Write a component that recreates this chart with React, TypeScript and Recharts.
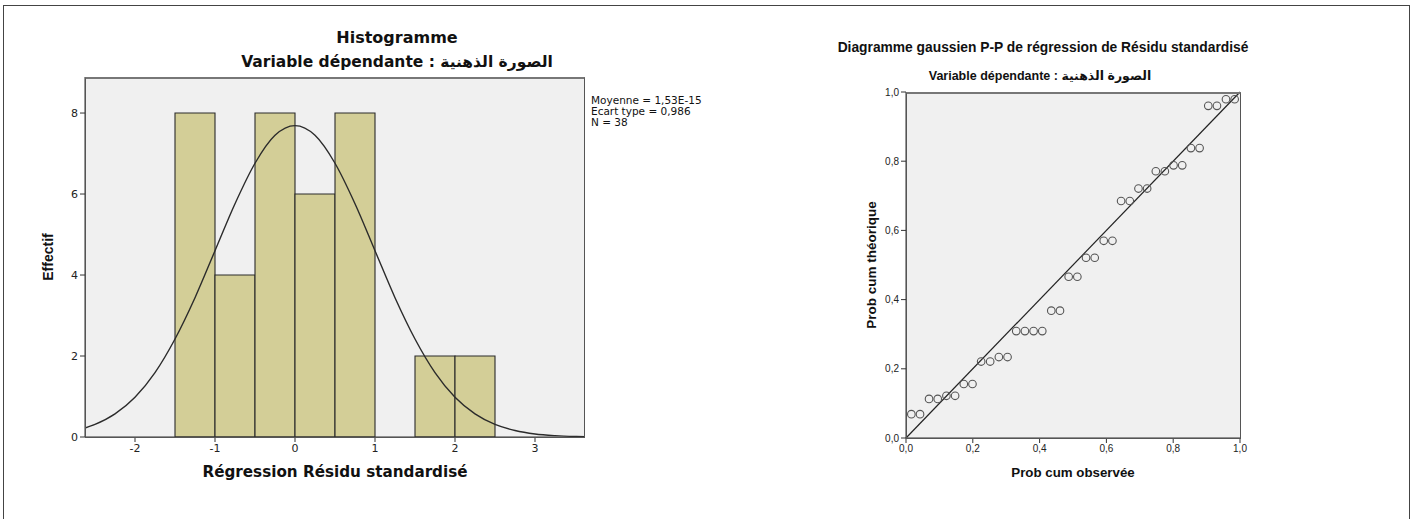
import React from 'react';
import {
  ComposedChart, Bar, Line, XAxis, YAxis, CartesianGrid,
  ScatterChart, Scatter, ReferenceLine,
} from 'recharts';

// ---------- Histogram data ----------
const binCenters = [-1.25, -0.75, -0.25, 0.25, 0.75, 1.25, 1.75, 2.25];
const binCounts = [8, 4, 8, 6, 8, 0, 2, 2];
const histXTicks = [-2, -1, 0, 1, 2, 3];
const histYTicks = [0, 2, 4, 6, 8];

// normal curve
const curveX = [-2.625, -2.5, -2.25, -2, -1.75, -1.5, -1.25, -1, -0.75, -0.5, -0.25, 0, 0.25, 0.5, 0.75, 1, 1.25, 1.5, 1.75, 2, 2.25, 2.5, 2.75, 3, 3.25, 3.5, 3.625];
const curveY = [0.22, 0.31, 0.57, 0.98, 1.59, 2.42, 3.44, 4.6, 5.76, 6.76, 7.45, 7.69, 7.45, 6.76, 5.76, 4.6, 3.44, 2.42, 1.59, 0.98, 0.57, 0.31, 0.16, 0.075, 0.034, 0.014, 0.009];

// ---------- P-P plot data ----------
const ppObserved = [0.016, 0.042, 0.069, 0.095, 0.121, 0.147, 0.173, 0.199, 0.225, 0.252, 0.278, 0.304, 0.330, 0.356, 0.382, 0.408, 0.435, 0.461, 0.487, 0.513, 0.539, 0.565, 0.592, 0.618, 0.644, 0.670, 0.696, 0.722, 0.748, 0.775, 0.801, 0.827, 0.853, 0.879, 0.905, 0.931, 0.958, 0.984];
const ppExpected = [0.069, 0.069, 0.113, 0.113, 0.122, 0.122, 0.156, 0.156, 0.221, 0.221, 0.234, 0.234, 0.309, 0.309, 0.309, 0.309, 0.368, 0.368, 0.466, 0.466, 0.521, 0.521, 0.570, 0.570, 0.685, 0.685, 0.721, 0.721, 0.771, 0.771, 0.788, 0.788, 0.838, 0.838, 0.960, 0.960, 0.979, 0.979];
const ppTicks = [0, 0.2, 0.4, 0.6, 0.8, 1.0];

const histData = binCenters.map((x, i) => ({ x, count: binCounts[i] }));
const curveData = curveX.map((x, i) => ({ x, y: curveY[i] }));
const ppData = ppObserved.map((x, i) => ({ x, y: ppExpected[i] }));

const LEFT_FONT = "'DejaVu Sans', sans-serif";
const RIGHT_FONT = "'Liberation Sans', Arial, 'DejaVu Sans', sans-serif";

function Txt({ x, y, size, bold, family, rotate, children }: any) {
  return (
    <div
      style={{
        position: 'absolute',
        left: x,
        top: y,
        transform: `translate(-50%, -50%)${rotate ? ` rotate(${rotate}deg)` : ''}`,
        fontSize: size,
        fontWeight: bold ? 'bold' : 'normal',
        fontFamily: family,
        whiteSpace: 'nowrap',
        lineHeight: 1,
        color: '#111',
      }}
    >
      {children}
    </div>
  );
}

const fmtComma = (v: number) => v.toFixed(1).replace('.', ',');

export default function App() {
  return (
    <div style={{ position: 'absolute', left: 0, top: 0, width: 1416, height: 519, overflow: 'hidden', background: '#fff' }}>
      {/* outer frame */}
      <div style={{ position: 'absolute', left: 3, top: 5, width: 1407, height: 530, borderTop: '1.5px solid #444', borderLeft: '1.5px solid #444', borderRight: '1.5px solid #444', boxSizing: 'border-box' }} />

      {/* ---------- Histogram ---------- */}
      <div style={{ position: 'absolute', left: 0, top: 0 }}>
        <ComposedChart width={720} height={519} data={histData}
          margin={{ top: 77, right: 135, bottom: 52, left: 45 }}
          barCategoryGap={0} barGap={0}>
          <CartesianGrid fill="#f0f0f0" stroke="none" horizontal={false} vertical={false} />
          <XAxis xAxisId="main" type="number" dataKey="x" domain={[-2.625, 3.625]} ticks={histXTicks}
            allowDataOverflow height={30} tickSize={5} stroke="#333"
            tick={{ fontSize: 11, fill: '#222', fontFamily: LEFT_FONT }} />
          <XAxis xAxisId="curve" orientation="top" height={0} type="number" dataKey="x"
            domain={[-2.625, 3.625]} allowDataOverflow hide />
          <YAxis type="number" domain={[0, 8.89]} ticks={histYTicks} allowDataOverflow width={40}
            tickSize={5} stroke="#333" tick={{ fontSize: 11, fill: '#222', fontFamily: LEFT_FONT }} />
          <Bar xAxisId="main" dataKey="count" fill="#d3ce97" stroke="#2b2b2b" strokeWidth={1.1} isAnimationActive={false} />
          <Line xAxisId="curve" data={curveData} dataKey="y" type="monotone" stroke="#2b2b2b" strokeWidth={1.4}
            dot={false} activeDot={false} isAnimationActive={false} />
        </ComposedChart>
      </div>
      <div style={{ position: 'absolute', left: 85, top: 77, width: 500, height: 361, border: '1px solid #555', borderTop: '2px solid #777', boxSizing: 'border-box', pointerEvents: 'none' }} />

      <Txt x={397} y={38} size={16} bold family={LEFT_FONT}>Histogramme</Txt>
      <Txt x={397} y={63} size={15.5} bold family={LEFT_FONT}>Variable dépendante : الصورة الذهنية</Txt>
      <Txt x={335} y={473} size={15.2} bold family={LEFT_FONT}>Régression Résidu standardisé</Txt>
      <Txt x={48} y={257} size={14} bold family={RIGHT_FONT} rotate={-90}>Effectif</Txt>
      <div style={{ position: 'absolute', left: 591, top: 95, fontSize: 10.5, lineHeight: '11px', fontFamily: LEFT_FONT, color: '#111' }}>
        <div>Moyenne = 1,53E-15</div>
        <div>Ecart type = 0,986</div>
        <div>N = 38</div>
      </div>

      {/* ---------- P-P plot ---------- */}
      <div style={{ position: 'absolute', left: 760, top: 0 }}>
        <ScatterChart width={560} height={519} margin={{ top: 92, right: 80, bottom: 51, left: 106 }}>
          <CartesianGrid fill="#f0f0f0" stroke="none" horizontal={false} vertical={false} />
          <XAxis type="number" dataKey="x" domain={[0, 1]} ticks={ppTicks} tickFormatter={fmtComma}
            allowDataOverflow height={30} tickSize={5} stroke="#333"
            tick={{ fontSize: 10, fill: '#222', fontFamily: RIGHT_FONT }} />
          <YAxis type="number" dataKey="y" domain={[0, 1]} ticks={ppTicks} tickFormatter={fmtComma}
            allowDataOverflow width={40} tickSize={5} stroke="#333"
            tick={{ fontSize: 10, fill: '#222', fontFamily: RIGHT_FONT }} />
          <ReferenceLine segment={[{ x: 0, y: 0 }, { x: 1, y: 1 }]} stroke="#222" strokeWidth={1.2} />
          <Scatter data={ppData} isAnimationActive={false}
            shape={(p: any) => <circle cx={p.cx} cy={p.cy} r={3.8} fill="none" stroke="#555" strokeWidth={1.1} />} />
        </ScatterChart>
      </div>
      <div style={{ position: 'absolute', left: 906, top: 92, width: 335, height: 347, border: '1px solid #555', borderTop: '2px solid #777', boxSizing: 'border-box', pointerEvents: 'none' }} />

      <Txt x={1043} y={48} size={13.8} bold family={RIGHT_FONT}>Diagramme gaussien P-P de régression de Résidu standardisé</Txt>
      <Txt x={1040} y={76} size={12.5} bold family={RIGHT_FONT}>Variable dépendante : الصورة الذهنية</Txt>
      <Txt x={1073} y={473} size={13.3} bold family={RIGHT_FONT}>Prob cum observée</Txt>
      <Txt x={872} y={265} size={13.5} bold family={RIGHT_FONT} rotate={-90}>Prob cum théorique</Txt>
    </div>
  );
}
